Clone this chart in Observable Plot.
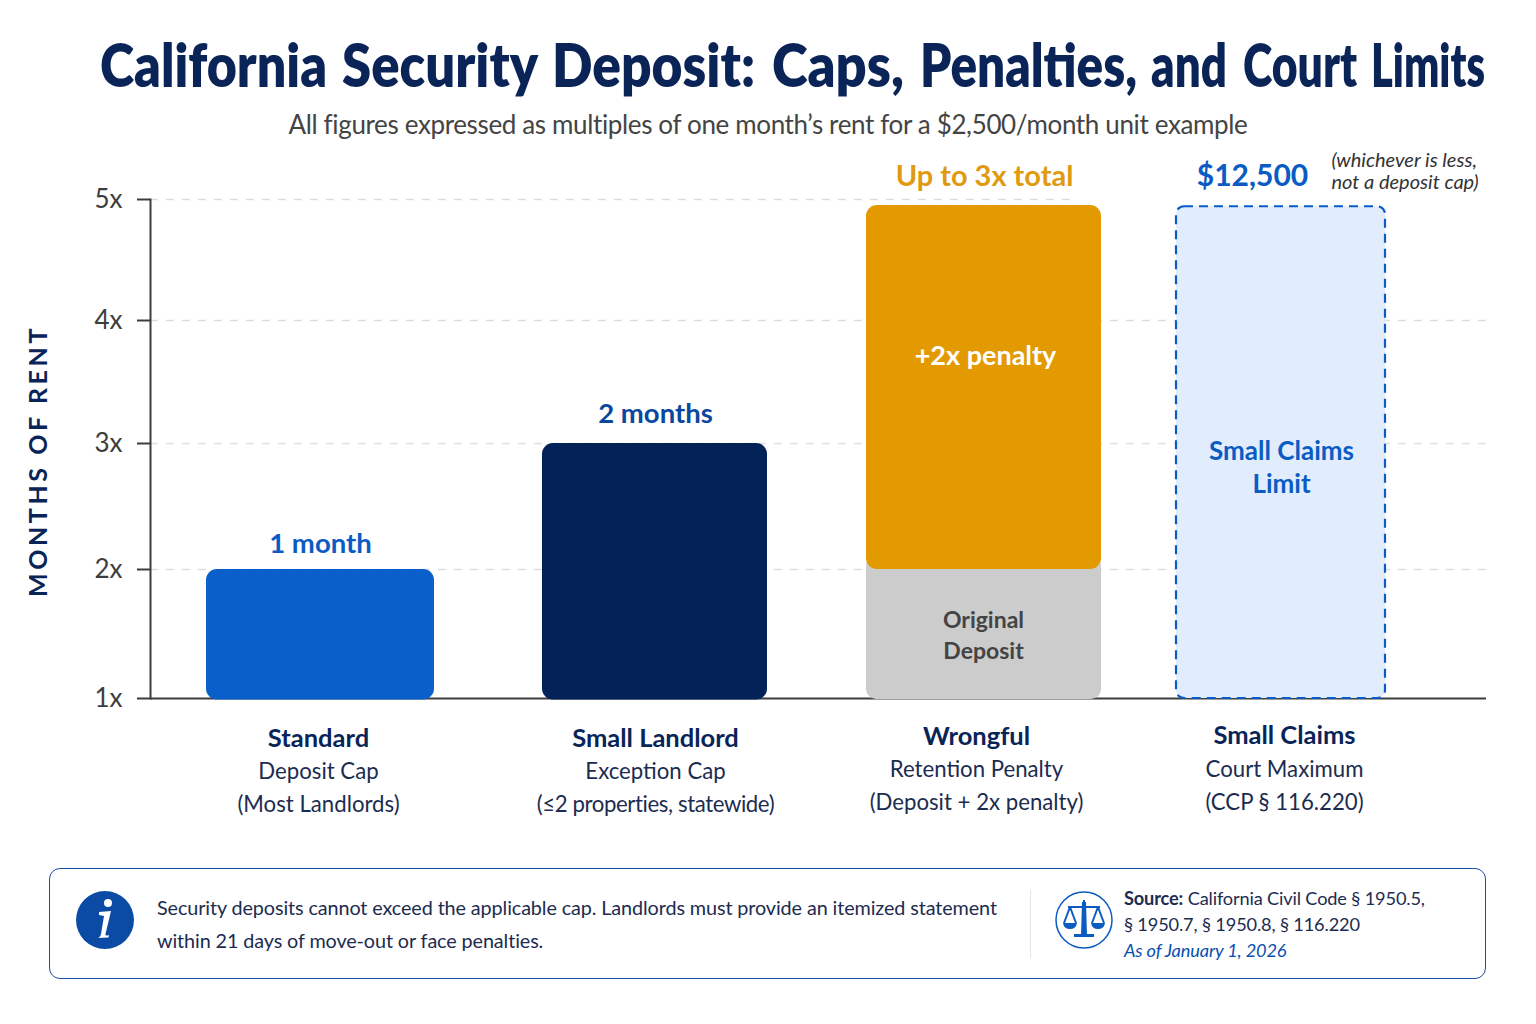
<!DOCTYPE html>
<html><head><meta charset="utf-8">
<script src="https://cdn.jsdelivr.net/npm/d3@7"></script>
<script src="https://cdn.jsdelivr.net/npm/@observablehq/plot@0.6"></script>
<style>
html,body{margin:0;padding:0;background:#fff;width:1536px;height:1024px;overflow:hidden;font-family:Lato,"Noto Sans",sans-serif}
#page{position:relative;width:1536px;height:1024px}
#title{position:absolute;left:100px;top:29px;font-size:60px;font-weight:800;color:#0a2458;line-height:70px;white-space:nowrap}
#title span{display:inline-block;transform-origin:left center}
#title i{font-size:0}
#sub{position:absolute;left:0;width:1536px;top:107px;text-align:center;font-size:26px;color:#444;letter-spacing:-.36px;line-height:34px;white-space:nowrap}
#chart{position:absolute;left:0;top:145px}
#chart svg{overflow:visible}
#chart text{font-family:Lato,"Noto Sans",sans-serif}
#foot{position:absolute;left:49px;top:868px;width:1435px;height:109px;border:1.5px solid #1c4f9f;border-radius:11px;background:#fff}
#foot div{position:absolute;white-space:nowrap}
.note{left:107px;font-size:19.8px;color:#1c2c50;line-height:28px;letter-spacing:-.1px}
.src{left:1074px;font-size:18.2px;color:#1c2c50;line-height:24px;letter-spacing:-.15px}
</style></head><body>
<div id="page">
<div id="title"></div>
<div id="sub"></div>
<div id="chart"></div>
<div id="foot"></div>
</div>
<script>
const chartTitle = "California Security Deposit: Caps, Penalties, and Court Limits";
const chartSubtitle = "All figures expressed as multiples of one month’s rent for a $2,500/month unit example";
const yAxisLabel = "MONTHS OF RENT";
const categories = ["Standard", "Small Landlord", "Wrongful", "Small Claims"];
const subLabels = ["Deposit Cap", "Exception Cap", "Retention Penalty", "Court Maximum"];
const detailLabels = ["(Most Landlords)", "(≤2 properties, statewide)", "(Deposit + 2x penalty)", "(CCP § 116.220)"];
const barBase = [1, 1, 2, 1];
const barTop = [2, 3, 4.95, 4.94];
const originalDeposit = {category: "Wrongful", from: 1, to: 2};
const yTicks = [1, 2, 3, 4, 5];
const topLabels = ["1 month", "2 months", "Up to 3x total", "$12,500"];
const noteLines = ["Security deposits cannot exceed the applicable cap. Landlords must provide an itemized statement", "within 21 days of move-out or face penalties."];
const sourceLines = ["California Civil Code § 1950.5,", "§ 1950.7, § 1950.8, § 116.220", "As of January 1, 2026"];

// layout and style (kept apart from the values)
const titleWordBoxes = [[100,227],[342,196],[552,203],[772,132],[920,217],[1151,76],[1243,114],[1371,114]];
const insets = [[46,46],[62,33],[66,19],[56,55]];
const barFill = ["#0a5fcb","#032258","#e29a00","#e1edfc"];
const topColor = ["#0a5cc4","#0a47a0","#e09a10","#0a5cc4"];
const topSize = [27.5,27.5,29,30];
const topDx = [0,15,24,-28];
const topDy = [-25,-29,-29,-30];
const labelDx = [-2,15,16,4];
const labelDy = [[40,73,106],[40,73,106],[38,71,104],[37,71,104]];
const FONT = 'Lato,"Noto Sans",sans-serif';

// title: one line of real text, each word fitted to its width in the reference
const titleEl = document.getElementById("title");
chartTitle.split(" ").forEach((w,i,a)=>{
  const s = document.createElement("span");
  s.textContent = w;
  titleEl.appendChild(s);
  if(i<a.length-1){const sp=document.createElement("i");sp.textContent=" ";titleEl.appendChild(sp);}
});
titleEl.querySelectorAll("span").forEach((s,i)=>{
  const m = s.getBoundingClientRect().width, [l,t] = titleWordBoxes[i];
  s.style.transform = `scaleX(${t/m})`;
  if(i<titleWordBoxes.length-1) s.style.marginRight = (titleWordBoxes[i+1][0]-l-m)+"px";
});
document.getElementById("sub").textContent = chartSubtitle;

const rows = categories.map((category,i)=>({category,i,base:barBase[i],top:barTop[i]}));
const txt = (s,category,y,o)=>Plot.text([s],{x:()=>category,y:()=>y,text:d=>d,lineAnchor:"middle",...o});

const marks = [
  // gridlines
  Plot.ruleY(yTicks.filter(d=>d>1&&d<5),{y:d=>d,stroke:"#dedede",strokeWidth:1.5,strokeDasharray:"8 8"}),
  Plot.ruleY([5],{y:d=>d,stroke:"#dedede",strokeWidth:1.5,strokeDasharray:"8 8",insetRight:411}),
  Plot.ruleY([1],{y:d=>d,stroke:"#3d3d3d",strokeWidth:2.2}),
  Plot.frame({anchor:"left",stroke:"#3d3d3d",strokeWidth:2}),
  Plot.axisY({ticks:yTicks,tickFormat:d=>d+"x",tickSize:13,tickPadding:15,fontSize:26,color:"#3d3d3d",stroke:"#3d3d3d",strokeWidth:2,label:null}),
  Plot.text([yAxisLabel],{frameAnchor:"left",textAnchor:"middle",dx:-112,dy:12,rotate:-90,fontSize:25,fontWeight:700,fill:"#0a2458"}),
  // deposit under the penalty
  Plot.barY([originalDeposit],{x:"category",y1:"from",y2:"to",fill:"#cccccc",rx:10,ry:10,insetLeft:insets[2][0],insetRight:insets[2][1],insetTop:-14,insetBottom:-1}),
  // bars
  ...rows.slice(0,3).map(r=>Plot.barY([r],{x:"category",y1:"base",y2:"top",fill:barFill[r.i],rx:11,ry:11,insetLeft:insets[r.i][0],insetRight:insets[r.i][1],insetBottom:r.i==2?0:-1.5})),
  Plot.barY([rows[3]],{x:"category",y1:"base",y2:"top",fill:barFill[3],stroke:"#0a5cc4",strokeWidth:2.2,strokeDasharray:"9 6",rx:8,ry:8,insetLeft:insets[3][0],insetRight:insets[3][1]}),
  // labels above bars
  ...rows.map(r=>txt(topLabels[r.i],r.category,r.top,{dx:topDx[r.i],dy:topDy[r.i],fill:topColor[r.i],fontSize:topSize[r.i],fontWeight:700})),
  txt("(whichever is less,","Small Claims",4.94,{dx:51,dy:-46,textAnchor:"start",fontSize:20,fontStyle:"italic",fill:"#333"}),
  txt("not a deposit cap)","Small Claims",4.94,{dx:51,dy:-24,textAnchor:"start",fontSize:20,fontStyle:"italic",fill:"#333"}),
  // labels inside bars
  txt("+2x penalty","Wrongful",3.7,{dx:25,dy:-1,fill:"#fff",fontSize:27,fontWeight:700}),
  txt("Original","Wrongful",1.5,{dx:23,dy:-13,fill:"#444",fontSize:23,fontWeight:700}),
  txt("Deposit","Wrongful",1.5,{dx:23,dy:18,fill:"#444",fontSize:23,fontWeight:700}),
  txt("Small Claims","Small Claims",3,{dx:1,dy:8,fill:"#0a5cc4",fontSize:26,fontWeight:700}),
  txt("Limit","Small Claims",3,{dx:1,dy:41,fill:"#0a5cc4",fontSize:26,fontWeight:700}),
  // category labels
  ...rows.flatMap(r=>[
    txt(r.category,r.category,1,{dx:labelDx[r.i],dy:labelDy[r.i][0],fill:"#0a2458",fontSize:25.5,fontWeight:700}),
    txt(subLabels[r.i],r.category,1,{dx:labelDx[r.i],dy:labelDy[r.i][1],fill:"#1c2c50",fontSize:22.2}),
    txt(detailLabels[r.i],r.category,1,{dx:labelDx[r.i],dy:labelDy[r.i][2],fill:"#1c2c50",fontSize:22.2})
  ])
];

const plot = Plot.plot({
  width:1536, height:700,
  marginLeft:150, marginRight:50, marginTop:54, marginBottom:147,
  style:{fontFamily:FONT,background:"transparent"},
  x:{type:"band",domain:categories,range:[160,1440],padding:0,axis:null},
  y:{type:"linear",domain:[1,2,3,4,5],range:[553,424,298,175,54],axis:null},
  marks
});
document.getElementById("chart").appendChild(plot);
const spacing = {[yAxisLabel]:"3.6px",[detailLabels[1]]:"-.4px"};
d3.select(plot).selectAll("text").each(function(){
  const v = spacing[this.textContent];
  if(v) this.style.letterSpacing = v;
});

const foot = document.getElementById("foot");
foot.innerHTML = `
<svg width="64" height="64" viewBox="0 0 64 64" style="position:absolute;left:23px;top:19px">
 <circle cx="32" cy="32" r="29" fill="#0b4ba5"/>
 <circle cx="35" cy="15" r="4" fill="#fff"/>
 <path d="M26 24 L38 23 L32.5 46 Q32 48.5 36 47 L35.5 49.5 L24.5 50 Q27 50 28 46 L31 28 L26 27Z" fill="#fff"/>
</svg>
<div class="note" style="top:24px">${noteLines[0]}</div>
<div class="note" style="top:57px">${noteLines[1]}</div>
<div style="left:980px;top:21px;width:1px;height:68px;background:#e4e4e4"></div>
<svg width="60" height="60" viewBox="0 0 60 60" style="position:absolute;left:1004px;top:21px" fill="none" stroke="#0b5cc0">
 <circle cx="30" cy="30" r="28" stroke-width="1.5"/>
 <path d="M30 10V44M14 17H46M16 17L10 33M16 17L22 33M44 17L38 33M44 17L50 33" stroke-width="2"/>
 <path d="M9 33H23Q22 39 16 39Q10 39 9 33ZM37 33H51Q50 39 44 39Q38 39 37 33ZM20 47H40V44H20Z" fill="#0b5cc0" stroke="none"/>
 <path d="M28 12h4l1 34h-6z" fill="#0b5cc0" stroke="none"/>
</svg>
<div class="src" style="top:17px"><b style="font-weight:700">Source:</b> ${sourceLines[0]}</div>
<div class="src" style="top:43px">${sourceLines[1]}</div>
<div class="src" style="top:69px;font-style:italic;color:#0a50b0">${sourceLines[2]}</div>`;
</script>
</body></html>
